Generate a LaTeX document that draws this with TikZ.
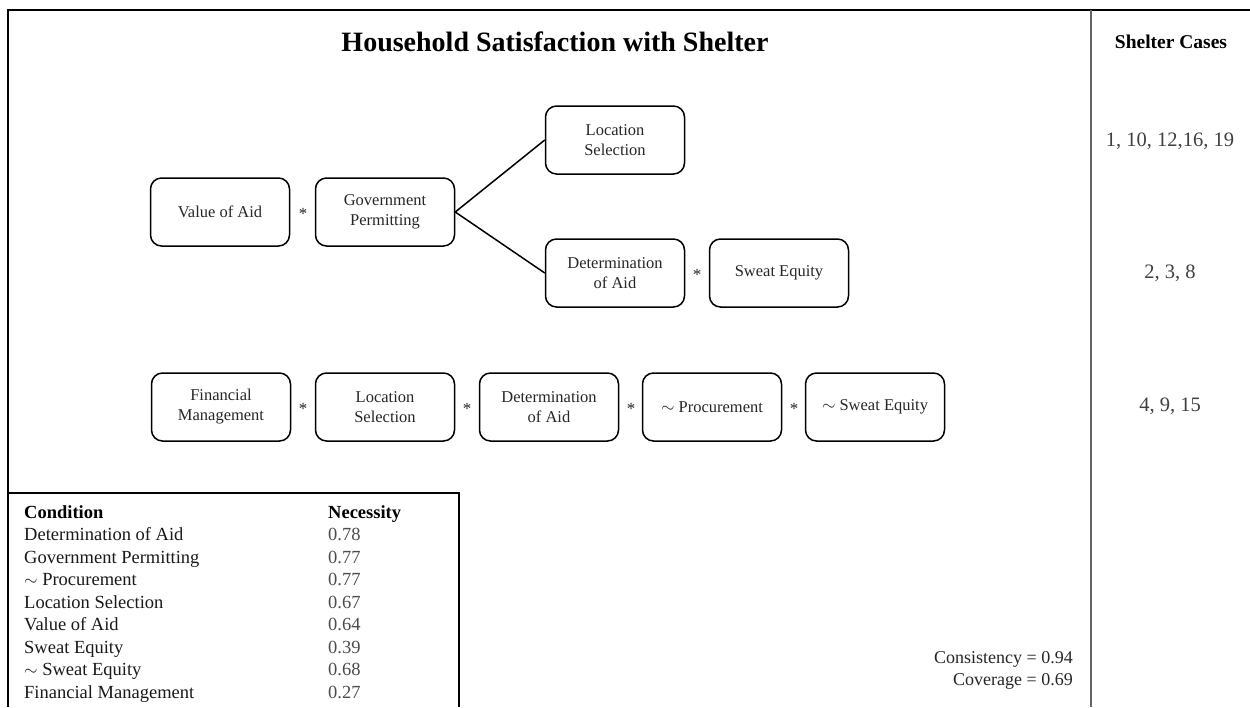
\documentclass[tikz,border=0pt]{standalone}
\usepackage{fontspec}
\setmainfont{Liberation Serif}
\begin{document}
\begin{tikzpicture}[x=1pt,y=-1pt,
  box/.style={draw, line width=1.5pt, rounded corners=11pt, minimum width=139pt, minimum height=68pt, align=center, inner sep=0pt, text=black!85, font=\fontsize{16.5}{20}\selectfont},
  conj/.style={inner sep=0pt, text=black!85, font=\fontsize{17}{17}\selectfont},
  link/.style={line width=1.5pt},
  tlabel/.style={anchor=base west, inner sep=0pt, text=black!90, font=\fontsize{18.5}{20}\selectfont},
  tval/.style={anchor=base west, inner sep=0pt, text=black!70, font=\fontsize{18.5}{20}\selectfont},
  thead/.style={anchor=base west, inner sep=0pt, text=black, font=\bfseries\fontsize{18.5}{20}\selectfont},
  cases/.style={inner sep=0pt, text=black!75, font=\fontsize{20.5}{22}\selectfont},
  stat/.style={anchor=base east, inner sep=0pt, text=black!85, font=\fontsize{18}{20}\selectfont}
]
\useasboundingbox (0,0) rectangle (1250,707);
% frame
\draw[line width=2.2pt] (8,707) -- (8,10) -- (1250,10);
\draw[black!60, line width=1.3pt] (1091,10) -- (1091,707);
\draw[line width=1.8pt] (8,493) -- (459,493) -- (459,707);

% titles
\node[font=\bfseries\fontsize{28}{30}\selectfont, inner sep=0pt] (title) at (555,42) {Household Satisfaction with Shelter};
\node[font=\bfseries\fontsize{19.5}{20}\selectfont, inner sep=0pt] (sc) at (1171,42) {Shelter Cases};

% first configuration
\node[box] (val) at (220,212) {Value of Aid};
\node[conj] (c1) at (303,214) {*};
\node[box] (gov) at (385,212) {Government\\Permitting};
\node[box] (loc) at (615,140) {Location\\Selection};
\node[box] (det) at (615,273) {Determination\\of Aid};
\node[conj] (c2) at (697,275) {*};
\node[box] (swe) at (779,273) {Sweat Equity};
\draw[link] (gov.east) -- (loc.west);
\draw[link] (gov.east) -- (det.west);

% second configuration
\node[box] (fm) at (221,407) {Financial\\Management};
\node[conj] (c3) at (303,409) {*};
\node[box] (loc2) at (385,407) {Location\\Selection};
\node[conj] (c4) at (467,409) {*};
\node[box] (det2) at (549,407) {Determination\\of Aid};
\node[conj] (c5) at (631,409) {*};
\node[box] (proc) at (712,407) {$\sim$ Procurement};
\node[conj] (c6) at (794,409) {*};
\node[box] (nsw) at (875,407) {$\sim$ Sweat Equity};

% cases
\node[cases] (k1) at (1170,141) {1, 10, 12,16, 19};
\node[cases] (k2) at (1170,273) {2, 3, 8};
\node[cases] (k3) at (1170,406) {4, 9, 15};

% table
\node[thead] (h1) at (24,518) {Condition};
\node[thead] (h2) at (328,518) {Necessity};
\node[tlabel] (r1) at (24,540.5) {Determination of Aid};
\node[tval] (v1) at (328,540.5) {0.78};
\node[tlabel] (r2) at (24,563) {Government Permitting};
\node[tval] (v2) at (328,563) {0.77};
\node[tlabel] (r3) at (24,585.5) {$\sim$ Procurement};
\node[tval] (v3) at (328,585.5) {0.77};
\node[tlabel] (r4) at (24,608) {Location Selection};
\node[tval] (v4) at (328,608) {0.67};
\node[tlabel] (r5) at (24,630.5) {Value of Aid};
\node[tval] (v5) at (328,630.5) {0.64};
\node[tlabel] (r6) at (24,653) {Sweat Equity};
\node[tval] (v6) at (328,653) {0.39};
\node[tlabel] (r7) at (24,675.5) {$\sim$ Sweat Equity};
\node[tval] (v7) at (328,675.5) {0.68};
\node[tlabel] (r8) at (24,698) {Financial Management};
\node[tval] (v8) at (328,698) {0.27};

% stats
\node[stat] (cons) at (1073,663) {Consistency = 0.94};
\node[stat] (cov) at (1073,685) {Coverage = 0.69};
\end{tikzpicture}
\end{document}
